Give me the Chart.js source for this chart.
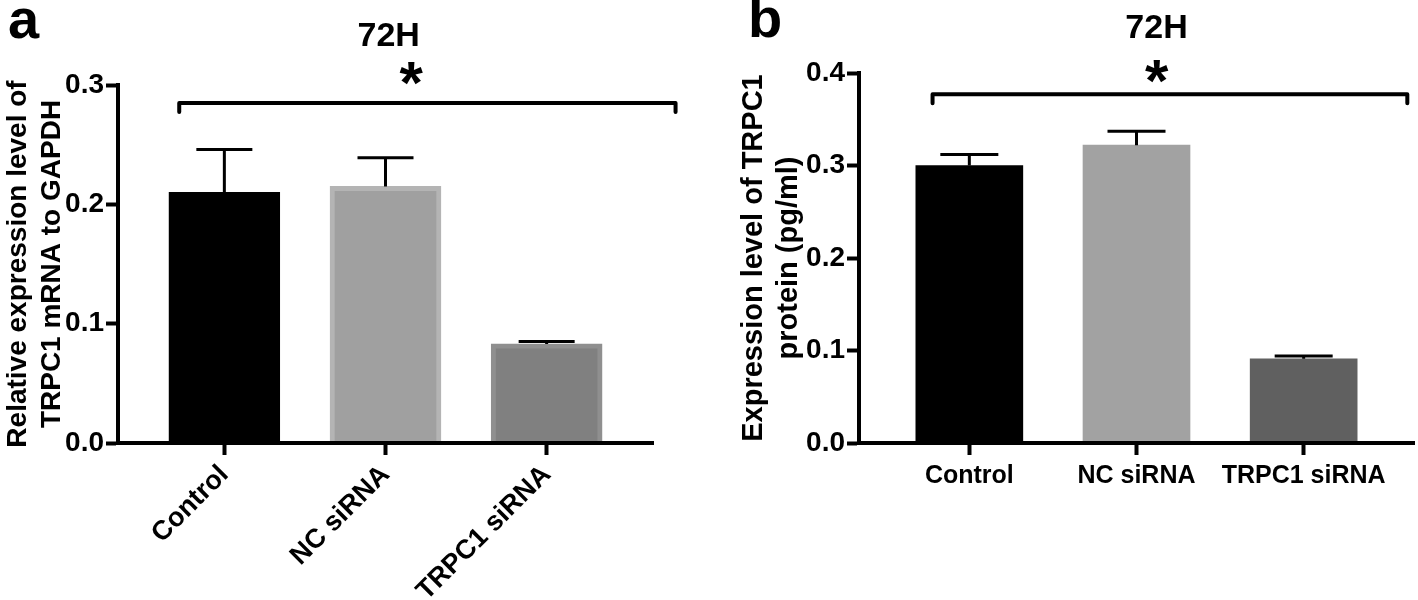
<!DOCTYPE html>
<html>
<head>
<meta charset="utf-8">
<script src="https://cdn.jsdelivr.net/npm/chart.js@4.4.1/dist/chart.umd.min.js"></script>
<style>
  html, body { margin: 0; padding: 0; background: #fff; }
  #wrap { position: relative; width: 1418px; height: 600px; }
  .panel { position: absolute; top: 0; height: 600px; }
</style>
</head>
<body>
<div id="wrap">
  <div class="panel" style="left:0;width:710px"><canvas id="chartA" width="710" height="600"></canvas></div>
  <div class="panel" style="left:710px;width:708px"><canvas id="chartB" width="708" height="600"></canvas></div>
</div>
<script>
// groups on the x axis (same in both panels)
const groups = ['Control', 'NC siRNA', 'TRPC1 siRNA'];

// panel a: TRPC1 mRNA relative to GAPDH, mean and upper error
const mrnaMean = [0.210, 0.215, 0.083];
const mrnaErr = [0.036, 0.024, 0.002];
const mrnaTicks = [0.0, 0.1, 0.2, 0.3];

// panel b: TRPC1 protein (pg/ml), mean and upper error
const proteinMean = [0.300, 0.322, 0.091];
const proteinErr = [0.012, 0.015, 0.003];
const proteinTicks = [0.0, 0.1, 0.2, 0.3, 0.4];

const FONT = '"Liberation Sans", Arial, Helvetica, sans-serif';
Chart.defaults.font.family = FONT;
Chart.defaults.color = '#000';

// error bar: stem from the bar top up to mean + err, with a cap
function errorBars(errs, capWidth) {
  return {
    id: 'errorBars',
    afterDatasetsDraw(chart) {
      const ctx = chart.ctx;
      const y = chart.scales.y;
      const meta = chart.getDatasetMeta(0);
      const pts = chart.data.datasets[0].data;
      ctx.save();
      ctx.strokeStyle = '#000';
      ctx.lineWidth = 3;
      meta.data.forEach((bar, i) => {
        const top = y.getPixelForValue(pts[i].y + errs[i]);
        ctx.beginPath();
        ctx.moveTo(bar.x, bar.y);
        ctx.lineTo(bar.x, top);
        ctx.moveTo(bar.x - capWidth / 2, top);
        ctx.lineTo(bar.x + capWidth / 2, top);
        ctx.stroke();
      });
      ctx.restore();
    }
  };
}

// significance bracket, asterisk, panel title and letter
function decorations(cfg) {
  return {
    id: 'decorations',
    afterDraw(chart) {
      const {ctx, scales: {x, y}} = chart;
      const x0 = x.getPixelForValue(cfg.from);
      const x1 = x.getPixelForValue(cfg.to);
      const yb = y.getPixelForValue(cfg.level);
      ctx.save();
      ctx.strokeStyle = '#000';
      ctx.lineWidth = 4;
      ctx.lineCap = 'round';
      ctx.lineJoin = 'round';
      ctx.beginPath();
      ctx.moveTo(x0, yb + 9);
      ctx.lineTo(x0, yb);
      ctx.lineTo(x1, yb);
      ctx.lineTo(x1, yb + 9);
      ctx.stroke();

      ctx.fillStyle = '#000';
      ctx.textAlign = 'center';
      ctx.textBaseline = 'alphabetic';
      ctx.font = 'bold 60px ' + FONT;
      ctx.fillText('*', x.getPixelForValue(cfg.starX), cfg.starY + 33);

      ctx.textBaseline = 'middle';
      ctx.font = 'bold 34px ' + FONT;
      ctx.fillText(cfg.title, x.getPixelForValue(cfg.titleX), cfg.titleY);

      ctx.textAlign = 'left';
      ctx.textBaseline = 'alphabetic';
      ctx.font = 'bold 56px ' + FONT;
      ctx.fillText(cfg.panel, cfg.panelX, cfg.panelY);
      ctx.restore();
    }
  };
}

function makeChart(id, o) {
  return new Chart(document.getElementById(id), {
    type: 'bar',
    data: {
      datasets: [{
        data: o.means.map((m, i) => ({x: i, y: m})),
        backgroundColor: o.colors,
        borderColor: o.borders,
        borderWidth: o.borderWidth,
        borderSkipped: 'start',
        barThickness: o.barWidth
      }]
    },
    options: {
      responsive: false,
      animation: false,
      layout: { padding: { top: o.top, left: o.left, right: o.right, bottom: 0 } },
      plugins: { legend: { display: false }, tooltip: { enabled: false } },
      scales: {
        x: {
          type: 'linear',
          min: -0.66,
          max: 2.66,
          offset: false,
          afterBuildTicks: s => { s.ticks = groups.map((g, i) => ({value: i})); },
          ticks: {
            callback: v => groups[v],
            font: { size: o.xFont, weight: 'bold' },
            color: '#000',
            autoSkip: false,
            minRotation: o.rotation,
            maxRotation: o.rotation,
            padding: o.rotation ? 4 : 6
          },
          grid: { offset: false, drawOnChartArea: false, tickLength: 12, tickWidth: 4, tickColor: '#000', z: 1 },
          border: { color: '#000', width: 4, z: 1 },
          afterFit: s => { s.height = 157; }
        },
        y: {
          min: 0,
          max: o.ticks[o.ticks.length - 1],
          afterBuildTicks: s => { s.ticks = o.ticks.map(v => ({value: v})); },
          ticks: {
            callback: v => v.toFixed(1),
            font: { size: 28, weight: 'bold' },
            color: '#000',
            padding: 2
          },
          grid: { drawOnChartArea: false, tickLength: 12, tickWidth: 4, tickColor: '#000', z: 1 },
          border: { color: '#000', width: 4, z: 1 },
          title: {
            display: true,
            text: o.yTitle,
            color: '#000',
            font: { size: o.yTitleFont, weight: 'bold', lineHeight: 1.22 },
            padding: 0
          },
          afterFit: s => { s.width = o.yWidth; }
        }
      }
    },
    plugins: [errorBars(o.errs, o.capWidth), decorations(o.deco)]
  });
}

makeChart('chartA', {
  means: mrnaMean,
  errs: mrnaErr,
  ticks: mrnaTicks,
  colors: ['#000000', '#a0a0a0', '#808080'],
  borders: ['#000000', '#b4b4b4', '#8f8f8f'],
  borderWidth: 5,
  barWidth: 111,
  capWidth: 56,
  rotation: 45,
  xFont: 27,
  yTitleFont: 28,
  top: 85, left: 1, right: 57, yWidth: 117,
  yTitle: ['Relative expression level of', 'TRPC1 mRNA to GAPDH'],
  deco: { from: -0.28, to: 2.80, level: 0.285, starX: 1.16, starY: 70,
          title: '72H', titleX: 1.02, titleY: 37, panel: 'a', panelX: 8, panelY: 38 }
});

makeChart('chartB', {
  means: proteinMean,
  errs: proteinErr,
  ticks: proteinTicks,
  colors: ['#000000', '#a2a2a2', '#606060'],
  borders: ['#000000', '#a2a2a2', '#606060'],
  borderWidth: 0,
  barWidth: 107,
  capWidth: 58,
  rotation: 0,
  xFont: 25,
  yTitleFont: 29,
  top: 73, left: 26, right: 4, yWidth: 123,
  yTitle: ['Expression level of TRPC1', 'protein (pg/ml)'],
  deco: { from: -0.22, to: 2.62, level: 0.377, starX: 1.12, starY: 68,
          title: '72H', titleX: 1.12, titleY: 29, panel: 'b', panelX: 38, panelY: 37 }
});
</script>
</body>
</html>
